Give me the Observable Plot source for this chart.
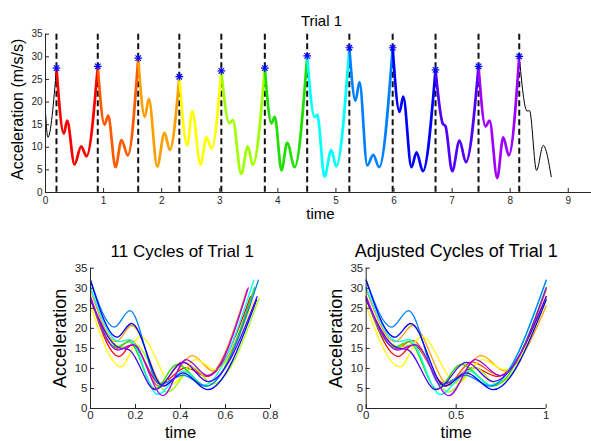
<!DOCTYPE html>
<html><head><meta charset="utf-8">
<script src="https://cdn.jsdelivr.net/npm/d3@7"></script>
<script src="https://cdn.jsdelivr.net/npm/@observablehq/plot@0.6"></script>
<style>
body{margin:0;background:#fff;}
#chart{position:relative;width:591px;height:441px;overflow:hidden;background:#fff;}
#chart svg{position:absolute;}
</style></head><body><div id="chart"></div>
<script>
// ---- data ----
const peakTimes  = [0.189, 0.900, 1.596, 2.304, 3.027, 3.776, 4.505, 5.231, 5.977, 6.715, 7.455, 8.156];
const peakValues = [27.5, 27.9, 29.7, 25.6, 26.9, 27.5, 30.2, 32.0, 32.0, 27.1, 27.9, 30.1];
const cycleColors = ["#ff0000","#ff5a00","#ffa000","#ffff00","#a0ff00","#20e000","#00ffff","#0080ff","#0000ff","#5000ff","#a000ff"];
// interior turning points of each cycle [time, acceleration]
const cycle1  = [[0.316,13.0],[0.373,15.9],[0.499,6.2],[0.614,10.2],[0.706,8.0]];
const cycle2  = [[1.016,15.0],[1.079,17.0],[1.205,5.6],[1.309,11.6],[1.417,8.2]];
const cycle3  = [[1.710,16.7],[1.779,20.7],[1.923,5.75],[2.049,13.2],[2.140,9.4]];
const cycle4  = [[2.440,10.4],[2.526,18.0],[2.669,6.2],[2.772,12.2],[2.858,9.7]];
const cycle5  = [[3.165,15.3],[3.225,16.0],[3.369,4.1],[3.483,10.2],[3.570,6.1]];
const cycle6  = [[3.890,15.3],[3.948,16.7],[4.063,4.9],[4.161,11.0],[4.290,5.6]];
const cycle7  = [[4.632,16.7],[4.678,17.2],[4.804,3.5],[4.919,9.4],[5.005,5.8]];
const cycle8  = [[5.337,20.3],[5.406,24.4],[5.539,6.0],[5.642,8.3],[5.745,5.6]];
const cycle9  = [[6.095,17.8],[6.159,21.2],[6.300,5.6],[6.388,8.9],[6.497,4.7]];
const cycle10 = [[6.840,15.2],[6.885,14.7],[7.002,4.7],[7.128,11.5],[7.237,6.7]];
const cycle11 = [[7.576,14.6],[7.645,15.9],[7.777,3.2],[7.880,12.2],[7.977,8.2]];
const leadingPoints  = [[0,17.8],[0.04,12.2]];
const trailingPoints = [[8.290,18.0],[8.333,18.1],[8.454,4.9],[8.569,10.4],[8.707,3.5]];
const topXTicks   = [0,1,2,3,4,5,6,7,8,9];
const yTicks      = [0,5,10,15,20,25,30,35];
const leftXTicks  = [0,0.2,0.4,0.6,0.8];
const rightXTicks = [0,0.5,1];

// ---- build tables ----
const cycleInterior = [cycle1,cycle2,cycle3,cycle4,cycle5,cycle6,cycle7,cycle8,cycle9,cycle10,cycle11];
const cycles = cycleInterior.map((pts, i) => {
  const t0 = peakTimes[i], dur = peakTimes[i+1] - peakTimes[i];
  const full = [[peakTimes[i], peakValues[i]], ...pts, [peakTimes[i+1], peakValues[i+1]]];
  return full.map(([t, a]) => ({t, a, rel: t - t0, norm: (t - t0) / dur}));
});
const leading = [...leadingPoints, [peakTimes[0], peakValues[0]]].map(([t,a]) => ({t, a}));
const lastIdx = peakTimes.length - 1;
const trailing = [[peakTimes[lastIdx], peakValues[lastIdx]], ...trailingPoints].map(([t,a]) => ({t, a}));
const peaks = peakTimes.map((t, i) => ({t, a: peakValues[i]}));

const FONT = '"Liberation Sans", Arial, Helvetica, sans-serif';
const AX = "#262626";

function frameMarks(xTicks, tickFont, xPad) {
  return [
    Plot.ruleY([0], {stroke: AX, strokeWidth: 1}),
    Plot.ruleX([0], {stroke: AX, strokeWidth: 1}),
    Plot.axisX(xTicks, {anchor: "bottom", tickSize: -4, tickPadding: xPad, color: AX, fontSize: tickFont, label: null, tickFormat: d => String(d)}),
    Plot.axisY(yTicks, {anchor: "left", tickSize: -4, tickPadding: 7, color: AX, fontSize: tickFont, label: null, tickFormat: d => String(d)})
  ];
}
function labelMark(str, opts) {
  return Plot.text([str], {text: d => d, fill: "black", textAnchor: "middle", lineAnchor: "middle", ...opts});
}
const chartDiv = document.getElementById("chart");
function place(svg, left, topPx) {
  svg.style.left = left + "px";
  svg.style.top = topPx + "px";
  chartDiv.appendChild(svg);
}

// ---- top: Trial 1 ----
const topPlot = Plot.plot({
  width: 591, height: 225,
  marginLeft: 45, marginRight: 0, marginTop: 33.7, marginBottom: 33,
  x: {domain: [0, 9.4]},
  y: {domain: [0, 35]},
  style: {fontFamily: FONT, fontSize: "10px", background: "transparent", overflow: "visible"},
  marks: [
    Plot.ruleX(peakTimes, {stroke: "#111", strokeWidth: 2, strokeDasharray: "6,3.5"}),
    Plot.line(leading, {x: "t", y: "a", stroke: "black", strokeWidth: 1, curve: "monotone-x"}),
    Plot.line(trailing, {x: "t", y: "a", stroke: "black", strokeWidth: 1, curve: "monotone-x"}),
    ...cycles.map((pts, i) => Plot.line(pts, {x: "t", y: "a", stroke: cycleColors[i], strokeWidth: 2.7, curve: "monotone-x"})),
    Plot.dot(peaks, {x: "t", y: "a", symbol: "plus", r: 2.6, stroke: "#0000ff", strokeWidth: 1.2}),
    Plot.dot(peaks, {x: "t", y: "a", symbol: "times", r: 2.6, stroke: "#0000ff", strokeWidth: 1.2}),
    ...frameMarks(topXTicks, 10, 8),
    labelMark("Trial 1", {frameAnchor: "top", dx: 3, dy: -13.5, fontSize: 15}),
    labelMark("time", {frameAnchor: "bottom", dx: 2, dy: 21.2, fontSize: 15}),
    labelMark("Acceleration (m/s/s)", {frameAnchor: "left", rotate: -90, dx: -27.6, dy: -4, fontSize: 16})
  ]
});
place(topPlot, 0, 0);

// ---- bottom left: 11 cycles ----
const leftPlot = Plot.plot({
  width: 295, height: 211,
  marginLeft: 90, marginRight: 25, marginTop: 37.7, marginBottom: 33,
  x: {domain: [0, 0.8]},
  y: {domain: [0, 35]},
  style: {fontFamily: FONT, fontSize: "11.5px", background: "transparent", overflow: "visible"},
  marks: [
    ...cycles.map((pts, i) => Plot.line(pts, {x: "rel", y: "a", stroke: cycleColors[i], strokeWidth: 1.3, curve: "monotone-x"})),
    ...frameMarks(leftXTicks, 11.5, 6.5),
    labelMark("11 Cycles of Trial 1", {frameAnchor: "top", dx: 1.7, dy: -16.4, fontSize: 17}),
    labelMark("time", {frameAnchor: "bottom", dy: 24.5, fontSize: 16.5}),
    labelMark("Acceleration", {frameAnchor: "left", rotate: -90, dx: -29.8, fontSize: 18})
  ]
});
place(leftPlot, 0, 230);

// ---- bottom right: adjusted cycles ----
const rightPlot = Plot.plot({
  width: 296, height: 211,
  marginLeft: 70.7, marginRight: 45.3, marginTop: 37.7, marginBottom: 33,
  x: {domain: [0, 1]},
  y: {domain: [0, 35]},
  style: {fontFamily: FONT, fontSize: "11.5px", background: "transparent", overflow: "visible"},
  marks: [
    ...cycles.map((pts, i) => Plot.line(pts, {x: "norm", y: "a", stroke: cycleColors[i], strokeWidth: 1.3, curve: "monotone-x"})),
    ...frameMarks(rightXTicks, 11.5, 6.5),
    labelMark("Adjusted Cycles of Trial 1", {frameAnchor: "top", dy: -16.8, fontSize: 18}),
    labelMark("time", {frameAnchor: "bottom", dy: 24.5, fontSize: 16.5}),
    labelMark("Acceleration", {frameAnchor: "left", rotate: -90, dx: -30.2, fontSize: 18})
  ]
});
place(rightPlot, 295, 230);
</script>
</body></html>
